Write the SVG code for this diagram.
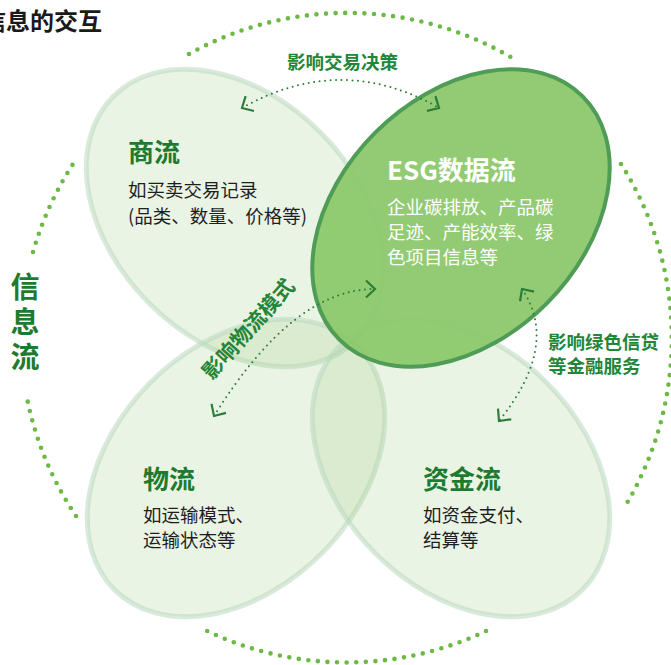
<svg xmlns="http://www.w3.org/2000/svg" width="671" height="665" viewBox="0 0 671 665">
  <style>
    text { font-family: "Noto Sans CJK SC", "Noto Sans", sans-serif; }
    .title { font-size: 24px; font-weight: bold; fill: #1a1a1a; }
    .head { font-size: 26px; font-weight: bold; fill: #1f7a31; }
    .body { font-size: 18.5px; fill: #1e1e1e; }
    .esg-head { font-size: 26px; font-weight: bold; fill: #ffffff; }
    .esg-body { font-size: 18.5px; fill: #ffffff; }
    .lbl { font-size: 18.5px; font-weight: bold; fill: #238539; }
    .info { font-size: 29px; font-weight: bold; fill: #1f7a31; }
    .light { fill: #a6d190; fill-opacity: 0.24; stroke: #b9d9bf; stroke-opacity: 0.55; stroke-width: 5; }
    .esg { fill: #8cc86c; fill-opacity: 0.95; stroke: #4e9c56; stroke-width: 4; }
    .ring { fill: none; stroke: #6cba45; stroke-width: 4.6; stroke-dasharray: 0 9.6; stroke-linecap: round; }
    .conn { fill: none; stroke: #2b7d3b; stroke-width: 2; stroke-dasharray: 0 5.5; stroke-linecap: round; marker-start: url(#chev); marker-end: url(#chev); }
  </style>
  <defs>
    <marker id="chev" markerUnits="userSpaceOnUse" viewBox="-14 -14 28 28" markerWidth="28" markerHeight="28" refX="0" refY="0" orient="auto-start-reverse" overflow="visible">
      <path d="M-9,-8.5 L0,0 L-9,8.5" fill="none" stroke="#2b7d3b" stroke-width="2.2" stroke-dasharray="none" stroke-linejoin="miter"/>
    </marker>
  </defs>

  <g id="title">
    <text class="title" x="-18" y="30">信息的交互</text>
  </g>

  <g id="info-flow">
    <path class="ring" d="M189,54 A325,325 0 0 1 514,59"/>
    <path class="ring" d="M621,164 A325,325 0 0 1 624,508"/>
    <path class="ring" d="M486,631 A325,325 0 0 1 205,630"/>
    <path class="ring" d="M76,516 A325,325 0 0 1 27,398"/>
    <path class="ring" d="M33,252 A325,325 0 0 1 75,161"/>
    <text class="info" x="25" y="272" writing-mode="tb" style="letter-spacing:6px">信息流</text>
  </g>

  <g id="shangliu">
    <ellipse class="light" cx="0" cy="0" rx="172" ry="121" transform="translate(235,218) rotate(45)"/>
  </g>
  <g id="wuliu">
    <ellipse class="light" cx="0" cy="0" rx="172" ry="121" transform="translate(236,468) rotate(-45)"/>
  </g>
  <g id="zijinliu">
    <ellipse class="light" cx="0" cy="0" rx="172" ry="121" transform="translate(461,468) rotate(45)"/>
  </g>
  <g id="esg">
    <ellipse class="esg" cx="0" cy="0" rx="172" ry="121" transform="translate(461,218) rotate(-45)"/>
  </g>

  <g id="shangliu-text">
    <text class="head" x="128" y="162">商流</text>
    <text class="body" x="128" y="197">如买卖交易记录</text>
    <text class="body" x="128" y="223">(品类、数量、价格等)</text>
  </g>
  <g id="esg-text">
    <text class="esg-head" x="387" y="180">ESG数据流</text>
    <text class="esg-body" x="387" y="214">企业碳排放、产品碳</text>
    <text class="esg-body" x="387" y="239">足迹、产能效率、绿</text>
    <text class="esg-body" x="387" y="264">色项目信息等</text>
  </g>
  <g id="wuliu-text">
    <text class="head" x="143" y="489">物流</text>
    <text class="body" x="143" y="522">如运输模式、</text>
    <text class="body" x="143" y="547">运输状态等</text>
  </g>
  <g id="zijinliu-text">
    <text class="head" x="423" y="489">资金流</text>
    <text class="body" x="423" y="522">如资金支付、</text>
    <text class="body" x="423" y="547">结算等</text>
  </g>

  <g id="connectors">
    <path class="conn" d="M242,108 Q341,52 439,108"/>
    <path class="conn" d="M214,416 Q293,289 375,289"/>
    <path class="conn" d="M522,289 Q560,345 499,421"/>
    <text class="lbl" x="287" y="69">影响交易决策</text>
    <text class="lbl" x="0" y="0" text-anchor="middle" transform="translate(254,334) rotate(-48)" style="font-size:21px">影响物流模式</text>
    <text class="lbl" x="548" y="349">影响绿色信贷</text>
    <text class="lbl" x="548" y="373">等金融服务</text>
  </g>
</svg>
